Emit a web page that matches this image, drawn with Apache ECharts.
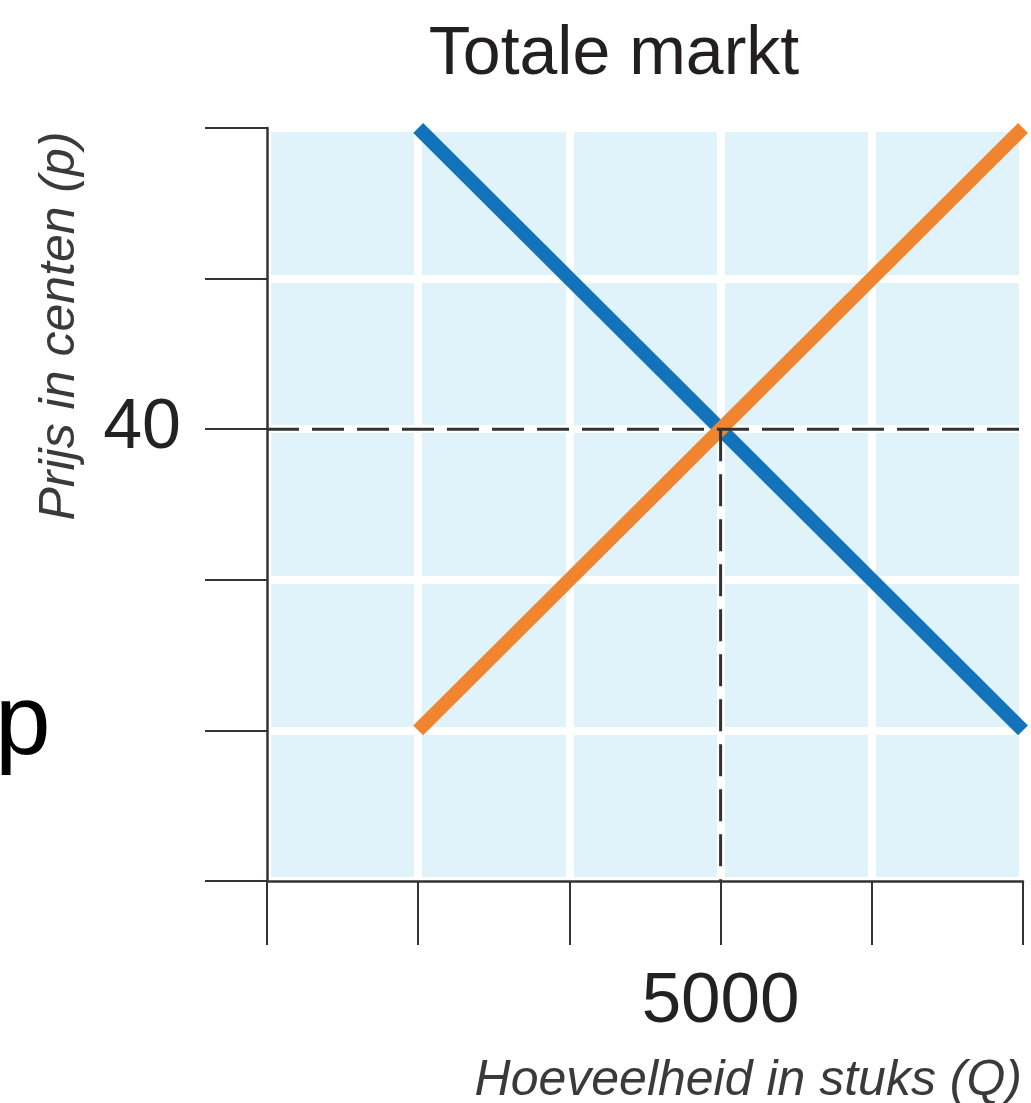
<!DOCTYPE html>
<html>
<head>
<meta charset="utf-8">
<script src="https://cdn.jsdelivr.net/npm/echarts@6/dist/echarts.min.js"></script>
<style>
html,body{margin:0;padding:0;background:#fff;}
#chart{width:1031px;height:1103px;}
</style>
</head>
<body>
<div id="chart"></div>
<script>
// Axis runs in grid units 0..5; only one tick per axis carries a label
const xTickLabels = ['', '', '', '5000', '', ''];
const yTickLabels = ['', '', '', '40', '', ''];
// Demand (blue) and supply (orange) in grid units [Q, P]
const demandLine = [[1, 5], [5, 1]];
const supplyLine = [[1, 1], [5, 5]];
// Equilibrium guides
const equilibriumQ = 3;
const equilibriumP = 3;
const priceGuide = [[0, equilibriumP], [5, equilibriumP]];
const quantityGuide = [[equilibriumQ, equilibriumP], [equilibriumQ, 0]];

const FONT = "'Liberation Sans', Arial, Helvetica, sans-serif";
const chart = echarts.init(document.getElementById('chart'));

const axisCommon = {
  type: 'value', min: 0, max: 5, interval: 1,
  axisLine: { show: true, lineStyle: { color: '#333', width: 2.5 } },
  axisTick: { show: true, inside: false, lineStyle: { color: '#333', width: 2 } },
  splitLine: { show: true, lineStyle: { color: '#ffffff', width: 8 } }
};

chart.setOption({
  animation: false,
  backgroundColor: '#ffffff',
  title: {
    text: 'Totale markt',
    left: 614, top: 21, padding: 0,
    textAlign: 'center',
    textStyle: { fontFamily: FONT, fontSize: 68, fontWeight: 'normal', color: '#231f20' }
  },
  grid: {
    left: 267, top: 128, right: 8, bottom: 222,
    show: true, backgroundColor: '#e1f3fa', borderWidth: 0
  },
  xAxis: Object.assign({}, axisCommon, {
    axisTick: Object.assign({}, axisCommon.axisTick, { length: 64 }),
    axisLabel: {
      formatter: v => xTickLabels[Math.round(v)] || '',
      fontFamily: FONT, fontSize: 71, color: '#222', margin: 86
    }
  }),
  yAxis: Object.assign({}, axisCommon, {
    axisTick: Object.assign({}, axisCommon.axisTick, { length: 62 }),
    axisLabel: {
      formatter: v => yTickLabels[Math.round(v)] || '',
      fontFamily: FONT, fontSize: 70, color: '#222', margin: 86
    }
  }),
  series: [
    {
      type: 'line', data: demandLine, symbol: 'none', z: 3,
      lineStyle: { color: '#1273bb', width: 14, cap: 'butt' }
    },
    {
      type: 'line', data: supplyLine, symbol: 'none', z: 3,
      lineStyle: { color: '#f1842f', width: 14, cap: 'butt' }
    },
    {
      type: 'line', data: priceGuide, symbol: 'none', z: 5,
      lineStyle: { color: '#333', width: 3, type: [32, 13] }
    },
    {
      type: 'line', data: quantityGuide, symbol: 'none', z: 5,
      lineStyle: { color: '#333', width: 3, type: [32, 13] }
    }
  ],
  graphic: [
    {
      type: 'text', x: 60, y: 326, rotation: Math.PI / 2,
      style: {
        text: 'Prijs in centen (p)', fontFamily: FONT, fontSize: 50, fontStyle: 'italic',
        fill: '#3a3a3a', align: 'center', verticalAlign: 'middle'
      }
    },
    {
      type: 'text', x: 1022, y: 1081,
      style: {
        text: 'Hoeveelheid in stuks (Q)', fontFamily: FONT, fontSize: 50, fontStyle: 'italic',
        fill: '#3a3a3a', align: 'right', verticalAlign: 'middle'
      }
    },
    {
      type: 'text', x: -5, y: 726,
      style: {
        text: 'p', fontFamily: FONT, fontSize: 100,
        fill: '#000', align: 'left', verticalAlign: 'middle'
      }
    }
  ]
});
</script>
</body>
</html>
